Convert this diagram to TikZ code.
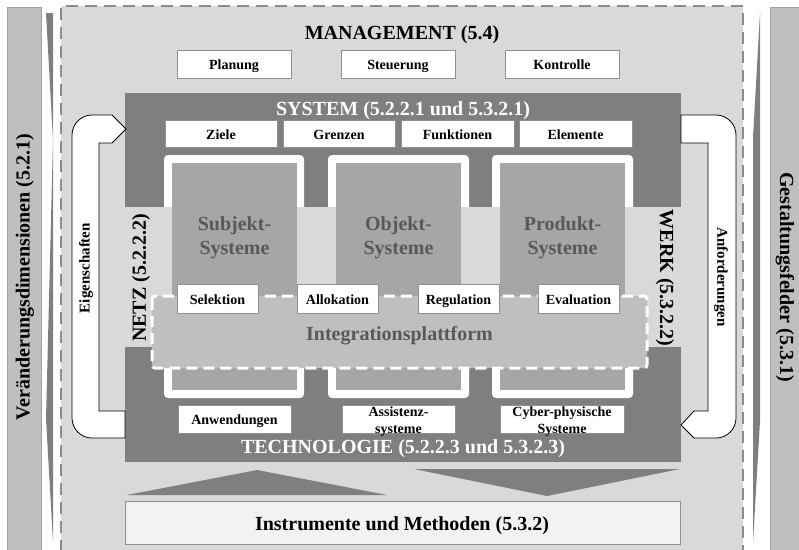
\documentclass[tikz,border=0pt]{standalone}
\usepackage{fontspec}
\setmainfont{Liberation Serif}
\definecolor{bgmain}{HTML}{D9D9D9}
\definecolor{darkg}{HTML}{7F7F7F}
\definecolor{colg}{HTML}{A6A6A6}
\definecolor{integ}{HTML}{BFBFBF}
\definecolor{stripg}{HTML}{BFBFBF}
\definecolor{stripb}{HTML}{A0A0A0}
\definecolor{txtg}{HTML}{595959}
\definecolor{instr}{HTML}{F2F2F2}
\definecolor{boxb}{HTML}{909090}
\definecolor{dashg}{HTML}{8C8C8C}
\begin{document}
\begin{tikzpicture}[x=1pt,y=-1pt,
  lbl/.style={draw=boxb, fill=white, line width=0.6pt, inner sep=0pt,
    text height=12.5pt, text depth=1pt,
    font=\fontsize{14}{15}\selectfont\bfseries},
  small/.style={font=\fontsize{14}{17}\selectfont\bfseries, align=center, inner sep=0pt},
  mid/.style={font=\fontsize{15}{17}\selectfont\bfseries, inner sep=0pt},
  big/.style={font=\fontsize{20}{24}\selectfont\bfseries, align=center, inner sep=0pt},
  arrowband/.style={fill=white, draw=black, line width=0.8pt, line join=miter},
]
\useasboundingbox (0,0) rectangle (799,549);

% side strips
\draw[fill=stripg, draw=stripb, line width=0.8pt] (7,7) rectangle (41,552);
\draw[fill=stripg, draw=stripb, line width=0.8pt] (770,7) rectangle (802,552);
\fill[darkg] (46,13) -- (53,13) -- (53,542) -- (46,419) -- (53,140) -- cycle;
\fill[darkg] (760,13) -- (753,137) -- (753,542) -- (760,421) -- cycle;

% main area
\fill[bgmain] (61,6) rectangle (743,552);
\draw[dashg, line width=1.5pt, dash pattern=on 12pt off 7pt] (61,552) -- (61,6) -- (743,6) -- (743,552);

% dark blocks
\fill[darkg] (125,93) rectangle (681,207);
\fill[darkg] (125,347) rectangle (681,462);

% white column frames
\fill[white, rounded corners=4pt] (164,155) rectangle (304,398);
\fill[white, rounded corners=4pt] (328,155) rectangle (469,398);
\fill[white, rounded corners=4pt] (492,155) rectangle (633,398);

% middle band
\fill[bgmain] (125,207) rectangle (681,347);

% inner columns
\fill[colg] (172,163) rectangle (297,390);
\fill[colg] (336,163) rectangle (461,390);
\fill[colg] (500,163) rectangle (625,390);

% integration platform
\draw[fill=integ, draw=white, line width=3pt, dash pattern=on 11pt off 6pt, rounded corners=3pt] (152,296) rectangle (647,368);

% triangles
\fill[darkg] (127,495) -- (257,470) -- (387,495) -- cycle;
\fill[darkg] (414,469) -- (680,469) -- (547,496) -- cycle;

% instrumente box
\node[draw=boxb, fill=instr, line width=0.8pt, minimum width=555pt, minimum height=43pt, inner sep=0pt] (instr) at (402.5,522.5) {};
\node[big, anchor=base] (instrT) at (402,530) {Instrumente und Methoden (5.3.2)};

% titles
\node[big, anchor=base] (mgmt) at (402,39) {MANAGEMENT (5.4)};
\node[big, anchor=base, text=white] (sys) at (403,115) {SYSTEM (5.2.2.1 und 5.3.2.1)};
\node[big, anchor=base, text=white] (tech) at (403,453) {TECHNOLOGIE (5.2.2.3 und 5.3.2.3)};

% management boxes
\node[lbl, minimum width=114pt, minimum height=28pt] (plan) at (234,64) {Planung};
\node[lbl, minimum width=114pt, minimum height=28pt] (steu) at (398,64) {Steuerung};
\node[lbl, minimum width=114pt, minimum height=28pt] (kont) at (562,64) {Kontrolle};

% system boxes
\node[lbl, minimum width=112pt, minimum height=27pt] (ziele) at (221,133.5) {Ziele};
\node[lbl, minimum width=112pt, minimum height=27pt] (grenz) at (339,133.5) {Grenzen};
\node[lbl, minimum width=113pt, minimum height=27pt] (funk) at (457.5,133.5) {Funktionen};
\node[lbl, minimum width=113pt, minimum height=27pt] (elem) at (575.5,133.5) {Elemente};

% column texts
\node[big, text=txtg] (subj) at (234.5,238) {Subjekt-\\Systeme};
\node[big, text=txtg] (obj) at (398.5,238) {Objekt-\\Systeme};
\node[big, text=txtg] (prod) at (562.5,238) {Produkt-\\Systeme};

% integration texts
\node[big, anchor=base, text=txtg] (integT) at (399.5,340) {Integrationsplattform};
\node[lbl, minimum width=81pt, minimum height=29pt] (sel) at (217.5,298.5) {Selektion};
\node[lbl, minimum width=81pt, minimum height=29pt] (allo) at (337.5,298.5) {Allokation};
\node[lbl, minimum width=81pt, minimum height=29pt] (regu) at (458.5,298.5) {Regulation};
\node[lbl, minimum width=81pt, minimum height=29pt] (eval) at (578.5,298.5) {Evaluation};

% technology boxes
\node[lbl, minimum width=113pt, minimum height=28pt] (anw) at (234.5,419) {Anwendungen};
\node[lbl, minimum width=113pt, minimum height=28pt] (assi) at (398.5,419) {};
\node[small] (assiT) at (398.5,422) {Assistenz-\\systeme};
\node[lbl, minimum width=124pt, minimum height=28pt] (cyb) at (562,419) {};
\node[small] (cybT) at (562,422) {Cyber-physische\\Systeme};

% rotated labels
\node[big, rotate=90] (netz) at (141,278) {NETZ (5.2.2.2)};
\node[big, rotate=-90] (werk) at (665,278) {WERK (5.3.2.2)};
\node[big, rotate=90] (veraend) at (25,277) {Veränderungsdimensionen (5.2.1)};
\node[big, rotate=-90] (gestalt) at (785,277) {Gestaltungsfelder (5.3.1)};

% U-arrows
\draw[arrowband] (125,411) -- (99,411) -- (99,143) -- (112,143) -- (126,129) -- (112,115) -- (92,115)
  .. controls (81,115) and (72,124) .. (72,135) -- (72,418)
  .. controls (72,429) and (81,438) .. (92,438) -- (125,438) -- cycle;
\draw[arrowband] (681,115) -- (716,115) .. controls (727,115) and (736,124) .. (736,135) -- (736,418)
  .. controls (736,429) and (727,438) .. (716,438) -- (694,438) -- (681,425) -- (694,411)
  -- (708,411) -- (708,143) -- (681,143) -- cycle;
\node[mid, rotate=90] (eig) at (86,268) {Eigenschaften};
\node[mid, rotate=-90] (anf) at (721,277) {Anforderungen};
\end{tikzpicture}
\end{document}
